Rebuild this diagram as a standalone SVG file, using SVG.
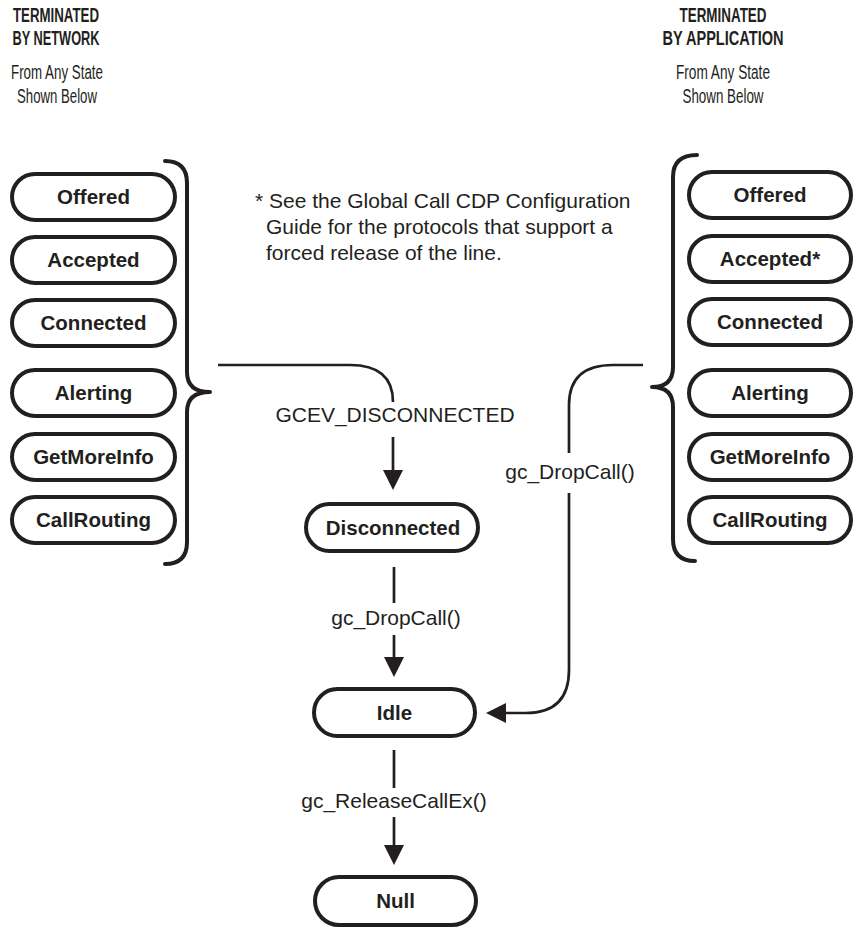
<svg xmlns="http://www.w3.org/2000/svg" width="854" height="929" viewBox="0 0 854 929">
  <style>
    .state rect { fill: #ffffff; stroke: #231f20; stroke-width: 4; }
    .state text { font-family: "Liberation Sans", Arial, sans-serif; font-weight: bold; font-size: 20.5px; fill: #231f20; text-anchor: middle; }
    .brace { fill: none; stroke: #231f20; stroke-width: 4; stroke-linecap: round; stroke-linejoin: round; }
    .link { fill: none; stroke: #231f20; stroke-width: 2.7; }
    .lbl { font-family: "Liberation Sans", Arial, sans-serif; font-size: 21px; fill: #231f20; text-anchor: middle; }
    .head { font-family: "Liberation Sans", Arial, sans-serif; font-weight: bold; font-size: 20px; fill: #231f20; text-anchor: middle; }
    .sub { font-family: "Liberation Sans", Arial, sans-serif; font-size: 20.5px; fill: #231f20; text-anchor: middle; }
    .note { font-family: "Liberation Sans", Arial, sans-serif; font-size: 21px; fill: #231f20; }
  </style>
  <defs>
    <marker id="arrow" viewBox="0 0 20 20" refX="12" refY="10" markerWidth="20" markerHeight="20" markerUnits="userSpaceOnUse" orient="auto">
      <path d="M0,0 L20,10 L0,20 Z" fill="#231f20"/>
    </marker>
  </defs>

  <!-- column headings -->
  <g id="head-network">
    <text class="head" x="56" y="22" textLength="86" lengthAdjust="spacingAndGlyphs">TERMINATED</text>
    <text class="head" x="56" y="45" textLength="87" lengthAdjust="spacingAndGlyphs">BY NETWORK</text>
    <text class="sub" x="57" y="79" textLength="92" lengthAdjust="spacingAndGlyphs">From Any State</text>
    <text class="sub" x="57" y="103" textLength="80" lengthAdjust="spacingAndGlyphs">Shown Below</text>
  </g>
  <g id="head-application">
    <text class="head" x="723" y="22" textLength="87" lengthAdjust="spacingAndGlyphs">TERMINATED</text>
    <text class="head" x="723" y="45" textLength="121" lengthAdjust="spacingAndGlyphs">BY APPLICATION</text>
    <text class="sub" x="723" y="79" textLength="94" lengthAdjust="spacingAndGlyphs">From Any State</text>
    <text class="sub" x="723" y="103" textLength="81" lengthAdjust="spacingAndGlyphs">Shown Below</text>
  </g>

  <!-- footnote -->
  <g id="footnote">
    <text class="note" x="255" y="208">* See the Global Call CDP Configuration</text>
    <text class="note" x="266" y="234">Guide for the protocols that support a</text>
    <text class="note" x="266" y="260">forced release of the line.</text>
  </g>

  <!-- network-side states -->
  <g id="net-offered" class="state"><rect x="12" y="174" width="163" height="46" rx="23"/><text x="93.5" y="204">Offered</text></g>
  <g id="net-accepted" class="state"><rect x="12" y="237" width="163" height="46" rx="23"/><text x="93.5" y="267">Accepted</text></g>
  <g id="net-connected" class="state"><rect x="12" y="300" width="163" height="46" rx="23"/><text x="93.5" y="330">Connected</text></g>
  <g id="net-alerting" class="state"><rect x="12" y="370" width="163" height="46" rx="23"/><text x="93.5" y="400">Alerting</text></g>
  <g id="net-getmoreinfo" class="state"><rect x="12" y="434" width="163" height="46" rx="23"/><text x="93.5" y="464">GetMoreInfo</text></g>
  <g id="net-callrouting" class="state"><rect x="12" y="497" width="163" height="46" rx="23"/><text x="93.5" y="527">CallRouting</text></g>

  <!-- application-side states -->
  <g id="app-offered" class="state"><rect x="689" y="172" width="162" height="46" rx="23"/><text x="770" y="202">Offered</text></g>
  <g id="app-accepted" class="state"><rect x="689" y="236" width="162" height="46" rx="23"/><text x="770" y="266">Accepted*</text></g>
  <g id="app-connected" class="state"><rect x="689" y="299" width="162" height="46" rx="23"/><text x="770" y="329">Connected</text></g>
  <g id="app-alerting" class="state"><rect x="689" y="370" width="162" height="46" rx="23"/><text x="770" y="400">Alerting</text></g>
  <g id="app-getmoreinfo" class="state"><rect x="689" y="434" width="162" height="46" rx="23"/><text x="770" y="464">GetMoreInfo</text></g>
  <g id="app-callrouting" class="state"><rect x="689" y="497" width="162" height="46" rx="23"/><text x="770" y="527">CallRouting</text></g>

  <!-- central states -->
  <g id="disconnected" class="state"><rect x="306" y="504" width="172" height="47" rx="23.5"/><text x="393" y="535">Disconnected</text></g>
  <g id="idle" class="state"><rect x="314" y="689" width="161" height="47" rx="23.5"/><text x="394.5" y="720">Idle</text></g>
  <g id="null" class="state"><rect x="315" y="877" width="161" height="48" rx="24"/><text x="395.5" y="908">Null</text></g>

  <!-- braces grouping the source states -->
  <g id="braces">
    <path class="brace" d="M165,161 Q187,161 187,183 L187,372 Q187,392 210,392 Q187,392 187,412 L187,542 Q187,564 165,564"/>
    <path class="brace" d="M697,155 Q673,155 673,177 L673,367 Q673,387 652,387 Q673,387 673,407 L673,539 Q673,561 695,561"/>
  </g>

  <!-- transitions -->
  <g id="connectors">
    <path class="link" d="M218,365 L350,365 Q393,365 393,402"/>
    <path class="link" d="M393,437 L393,482" marker-end="url(#arrow)"/>
    <path class="link" d="M394,567 L394,603"/>
    <path class="link" d="M394,635 L394,669" marker-end="url(#arrow)"/>
    <path class="link" d="M394,750 L394,788"/>
    <path class="link" d="M394,817 L394,857" marker-end="url(#arrow)"/>
    <path class="link" d="M643,365 L613,365 Q569,365 569,405 L569,453"/>
    <path class="link" d="M569,493 L569,670 Q569,713 526,713 L494,713" marker-end="url(#arrow)"/>
  </g>

  <!-- transition labels -->
  <g id="labels">
    <text class="lbl" x="395" y="422">GCEV_DISCONNECTED</text>
    <text class="lbl" x="396" y="625">gc_DropCall()</text>
    <text class="lbl" x="394" y="808">gc_ReleaseCallEx()</text>
    <text class="lbl" x="570" y="479">gc_DropCall()</text>
  </g>
</svg>
